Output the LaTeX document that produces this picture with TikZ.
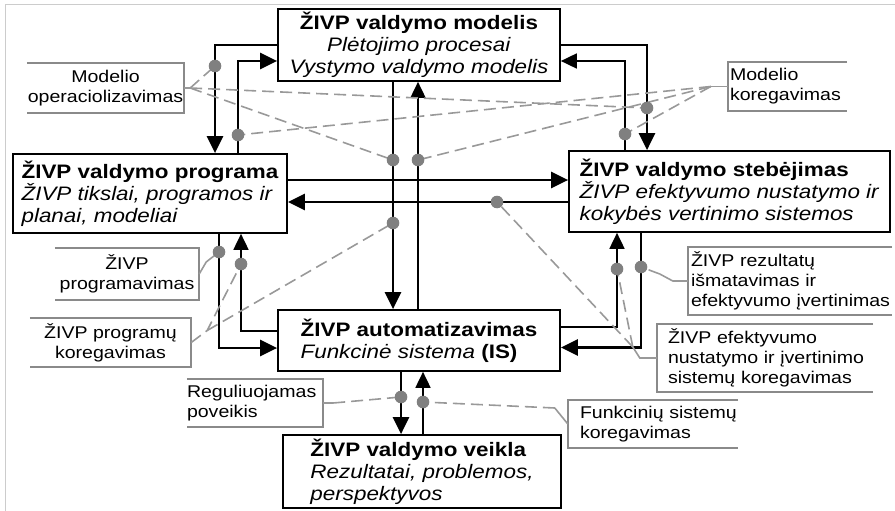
\documentclass[tikz,border=0pt]{standalone}
\usepackage{fontspec}
\setmainfont{Liberation Sans}[FakeStretch=1.15]
\usetikzlibrary{arrows.meta,calc}
\definecolor{framec}{HTML}{8A8A8A}
\definecolor{dashc}{HTML}{999999}
\definecolor{dotc}{HTML}{808080}
\definecolor{borderc}{HTML}{CCCCCC}
\begin{document}
\begin{tikzpicture}[x=1pt,y=-1pt,
  box/.style={draw, line width=1.7pt, inner sep=0pt, font=\fontsize{19.5}{22}\selectfont},
  lab/.style={inner sep=0pt, font=\fontsize{17}{20}\selectfont},
  frm/.style={draw=framec, line width=1.5pt},
  lead/.style={draw=dashc, line width=1.6pt},
  dsh/.style={draw=dashc, line width=1.6pt, dash pattern=on 12pt off 6pt},
  thk/.style={line width=2.8pt, -{Triangle[length=17pt,width=16pt]}},
  thn/.style={line width=1.8pt, -{Triangle[length=16pt,width=15pt]}}
]
\useasboundingbox (0,0) rectangle (895,511);
\draw[draw=borderc, line width=1pt] (895,5) -- (5,5) -- (5,511);

% main boxes
\node[box, align=center, minimum width=282, minimum height=72] (model) at (419,45)
  {\textbf{ŽIVP valdymo modelis}\\\textit{Plėtojimo procesai}\\\textit{Vystymo valdymo modelis}};
\node[box, align=left, minimum width=274, minimum height=79] (prog) at (150,193.5)
  {\textbf{ŽIVP valdymo programa}\\\textit{ŽIVP tikslai, programos ir}\\\textit{planai, modeliai}};
\node[box, align=left, minimum width=321, minimum height=81] (mon) at (729.5,191.5)
  {\textbf{ŽIVP valdymo stebėjimas}\\\textit{ŽIVP efektyvumo nustatymo ir}\\\textit{kokybės vertinimo sistemos}};
\node[box, align=left, minimum width=282, minimum height=61] (auto) at (419,340.5)
  {\textbf{ŽIVP automatizavimas}\\\textit{Funkcinė sistema} \textbf{(IS)}};
\node[box, align=left, minimum width=278, minimum height=73] (act) at (422,471.5)
  {\textbf{ŽIVP valdymo veikla}\\\textit{Rezultatai, problemos,}\\\textit{perspektyvos}};

% labels
\node[lab, align=center, minimum width=157, minimum height=50] (lopm) at (105.5,88) {Modelio\\operaciolizavimas};
\draw[frm] (lopm.north west) -- (lopm.north east) -- (lopm.south east) -- (lopm.south west);
\node[lab, align=left, minimum width=119, minimum height=49, text width=115, inner xsep=2] (lkor) at (787.5,86.5) {\mbox{Modelio}\\\mbox{koregavimas}};
\draw[frm] (lkor.north east) -- (lkor.north west) -- (lkor.south west) -- (lkor.south east);
\node[lab, align=center, minimum width=144, minimum height=52] (lprg) at (127,274) {ŽIVP\\programavimas};
\draw[frm] (lprg.north west) -- (lprg.north east) -- (lprg.south east) -- (lprg.south west);
\node[lab, align=center, minimum width=161, minimum height=49] (lpk) at (110.5,342.5) {ŽIVP programų\\koregavimas};
\draw[frm] (lpk.north west) -- (lpk.north east) -- (lpk.south east) -- (lpk.south west);
\node[lab, align=left, minimum width=136, minimum height=48, text width=136] (lreg) at (255,403) {\mbox{Reguliuojamas}\\\mbox{poveikis}};
\draw[frm] (lreg.north west) -- (lreg.north east) -- (lreg.south east) -- (lreg.south west);
\node[lab, align=left, minimum width=170, minimum height=48, text width=146, inner xsep=12] (lfun) at (653,424) {\mbox{Funkcinių sistemų}\\\mbox{koregavimas}};
\draw[frm] (lfun.north east) -- (lfun.north west) -- (lfun.south west) -- (lfun.south east);
\node[lab, align=left, minimum width=204, minimum height=68, text width=198, inner xsep=3] (lrez) at (790,281) {\mbox{ŽIVP rezultatų}\\\mbox{išmatavimas ir}\\\mbox{efektyvumo įvertinimas}};
\draw[frm] (lrez.north east) -- (lrez.north west) -- (lrez.south west) -- (lrez.south east);
\node[lab, align=left, minimum width=216, minimum height=68, text width=194, inner xsep=11] (lef) at (765,358) {\mbox{ŽIVP efektyvumo}\\\mbox{nustatymo ir įvertinimo}\\\mbox{sistemų koregavimas}};
\draw[frm] (lef.north east) -- (lef.north west) -- (lef.south west) -- (lef.south east);

% black connectors
\draw[thk] (model.west) -| ($(prog.north)+(65,0)$);
\draw[thk] ($(prog.north)+(88,0)$) |- ($(model.west)+(0,16)$);
\draw[thk] (model.east) -| ($(mon.north)+(-82.5,0)$);
\draw[thn] ($(mon.north)+(-104.5,0)$) |- ($(model.east)+(0,16)$);
\coordinate (e1) at ($(prog.east)+(0,-13.5)$);
\draw[thk] (e1) -- (e1 -| mon.west);
\coordinate (f1) at ($(mon.west)+(0,10.5)$);
\draw[thk] (f1) -- (f1 -| prog.east);
\coordinate (g1) at ($(model.south)+(-26,0)$);
\draw[thk] (g1) -- (g1 |- auto.north);
\coordinate (h1) at ($(auto.north)+(-1,0)$);
\draw[thn] (h1) -- (h1 |- model.south);
\draw[thk] ($(prog.south)+(69,0)$) |- ($(auto.west)+(0,7.5)$);
\draw[thn] ($(auto.west)+(0,-9.5)$) -| ($(prog.south)+(91,0)$);
\draw[thk] ($(mon.south)+(-88.5,0)$) |- ($(auto.east)+(0,7)$);
\draw[thn] ($(auto.east)+(0,-13.5)$) -| ($(mon.south)+(-112.5,0)$);
\coordinate (m1) at ($(auto.south)+(-18,0)$);
\draw[thk] (m1) -- (m1 |- act.north);
\coordinate (n1) at ($(act.north)+(1,0)$);
\draw[thn] (n1) -- (n1 |- auto.south);

% dot positions
\coordinate (d1) at (215,66);
\coordinate (d2) at (238,135);
\coordinate (d3) at (393,160);
\coordinate (d4) at (418,160);
\coordinate (d5) at (647,108);
\coordinate (d6) at (625,134);
\coordinate (d7) at (497,202);
\coordinate (d8) at (393,223);
\coordinate (d9) at (219,252);
\coordinate (d10) at (241,264);
\coordinate (d11) at (617,269);
\coordinate (d12) at (641,267);
\coordinate (d13) at (401,397);
\coordinate (d14) at (423,402);

% gray leaders
\coordinate (o1) at ($(lopm.east)+(6,0)$);
\draw[lead] (lopm.east) -- (o1);
\draw[dsh] (o1) -- (d1);
\draw[dsh] (o1) -- (d3);
\draw[dsh] (o1) -- (d5);
\coordinate (k1) at ($(lkor.west)+(-17,0)$);
\draw[lead] (lkor.west) -- (k1);
\draw[dsh] (k1) -- (d2);
\draw[dsh] (k1) -- (d4);
\draw[dsh] (k1) -- (d6);
\draw[lead] (lprg.east) -- ++(7,-12) -- (d9);
\coordinate (p1) at ($(lpk.east)+(16,-12)$);
\draw[dsh] (lpk.east) -- (p1) -- (d10);
\draw[dsh] (p1) -- (d8);
\coordinate (r1) at ($(lreg.east)+(10,0)$);
\draw[lead] (lreg.east) -- (r1);
\draw[dsh] (r1) -- (d13);
\coordinate (u1) at ($(lfun.west)+(-13,-16)$);
\draw[lead] (lfun.west) -- (u1);
\draw[dsh] (u1) -- (d14);
\draw[lead] (lrez.west) -- ++(-15,0) -- ++(-13,-7) coordinate (z1);
\draw[dsh] (z1) -- (d12);
\draw[lead] (lef.west) -- ++(-17,0) -- ++(-7,-11) coordinate (q1);
\draw[dsh] (q1) -- (d11);
\draw[dsh] (q1) -- (d7);

\foreach \d in {d1,d2,d3,d4,d5,d6,d7,d8,d9,d10,d11,d12,d13,d14}
  \fill[dotc] (\d) circle (6.3pt);
\end{tikzpicture}
\end{document}
